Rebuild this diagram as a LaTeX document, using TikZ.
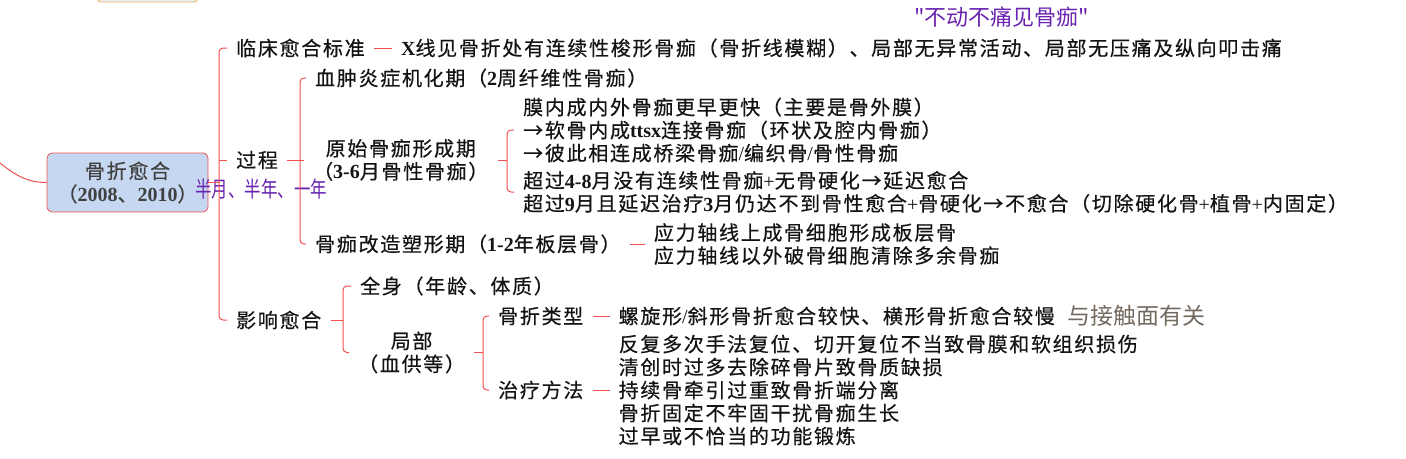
\documentclass[tikz,border=0pt]{standalone}
\usepackage{fontspec}
\setmainfont{Noto Sans CJK SC}[LetterSpace=8.5, FakeBold=0.5]
\newfontfamily\latfont{Liberation Serif}
\newfontfamily\handfont{Noto Sans CJK SC}
\newcommand\lb[1]{{\latfont\bfseries #1}}
\newcommand\lr[1]{{\latfont #1}}
\usepackage{xcolor}
\usetikzlibrary{positioning, calc}

\definecolor{linkred}{RGB}{242,80,80}
\definecolor{rootblue}{RGB}{198,216,241}
\definecolor{inkpurple}{RGB}{105,35,175}
\definecolor{notegray}{RGB}{115,105,95}
\definecolor{txtdark}{RGB}{20,20,20}
\definecolor{prevorange}{RGB}{246,175,85}

\begin{document}
\begin{tikzpicture}[
    x=1pt, y=-1pt,
    font=\fontsize{20}{23}\selectfont,
    topic/.style={inner xsep=9pt, inner ysep=0pt, text=txtdark, align=left},
    root/.style={rectangle, draw=linkred, fill=rootblue, rounded corners=5pt, minimum width=161pt, minimum height=59pt, align=center, text=black!75, line width=0.8pt},
    prevbox/.style={rectangle, draw=prevorange, fill=rootblue!40, rounded corners=4pt, minimum width=101pt, minimum height=28pt, line width=0.8pt},
    link/.style={draw=linkred, line width=1pt},
    bracket/.style={link, rounded corners=4pt},
    ink/.style={text=inkpurple, inner sep=0pt, font=\handfont\fontsize{22}{24}\selectfont},
    note/.style={text=notegray, inner sep=0pt, font=\handfont\fontsize{23}{24}\selectfont},
]
    \useasboundingbox (0,0) rectangle (1406,458);

    % centre topic and the one above it
    \node[prevbox] (prev) at (147.5,-12) {};
    \node[root] (root) at (127.5,182.5) {骨折愈合\\（\lb{2008}、\lb{2010}）};

    % first level
    \node[topic, anchor=west] (clin) at (227,48) {临床愈合标准};
    \node[topic, right=18pt of clin] (clinTxt) {\lb{X}线见骨折处有连续性梭形骨痂（骨折线模糊）、局部无异常活动、局部无压痛及纵向叩击痛};
    \node[topic, anchor=west] (proc) at (227,160) {过程};
    \node[topic, anchor=west] (infl) at (227,320) {影响愈合};

    % healing process
    \node[topic, anchor=west] (hema) at (306,78) {血肿炎症机化期（\lb{2}周纤维性骨痂）};
    \node[topic, anchor=west, align=center] (prim) at (304,160) {原始骨痂形成期\\（\lb{3-6}月骨性骨痂）};
    \node[topic, anchor=west] (primA) at (514,130) {膜内成内外骨痂更早更快（主要是骨外膜）\\→软骨内成\lb{ttsx}连接骨痂（环状及腔内骨痂）\\→彼此相连成桥梁骨痂\lr{/}编织骨\lr{/}骨性骨痂};
    \node[topic, anchor=west] (primB) at (514,192) {超过\lb{4-8}月没有连续性骨痂\lr{+}无骨硬化→延迟愈合\\超过\lb{9}月且延迟治疗\lb{3}月仍达不到骨性愈合\lr{+}骨硬化→不愈合（切除硬化骨\lr{+}植骨\lr{+}内固定）};
    \node[topic, anchor=west] (remod) at (306,244) {骨痂改造塑形期（\lb{1-2}年板层骨）};
    \node[topic, right=15pt of remod] (remodTxt) {应力轴线上成骨细胞形成板层骨\\应力轴线以外破骨细胞清除多余骨痂};

    % factors
    \node[topic, anchor=west] (whole) at (351,286) {全身（年龄、体质）};
    \node[topic, anchor=west, align=center] (local) at (349,352.5) {局部\\（血供等）};
    \node[topic, anchor=west] (ftype) at (489,316) {骨折类型};
    \node[topic, right=17pt of ftype] (ftypeTxt) {螺旋形\lr{/}斜形骨折愈合较快、横形骨折愈合较慢};
    \node[topic, anchor=west] (treat) at (489,390) {治疗方法};
    \node[topic, right=17pt of treat] (treatTxt) {反复多次手法复位、切开复位不当致骨膜和软组织损伤\\清创时过多去除碎骨片致骨质缺损\\持续骨牵引过重致骨折端分离\\骨折固定不牢固干扰骨痂生长\\过早或不恰当的功能锻炼};

    % handwritten notes
    \node[ink, anchor=west] (quote) at (914,17) {"不动不痛见骨痂"};
    \node[ink, anchor=west, xscale=0.75] (half) at (195,189) {半月、半年、一年};
    \node[note, right=3pt of ftypeTxt] (touch) {与接触面有关};

    % bracket positions
    \coordinate (start) at (0,163);
    \coordinate (b1) at (219,0);
    \coordinate (b2) at (300,0);
    \coordinate (b3) at (507,0);
    \coordinate (b4) at (343,0);
    \coordinate (b5) at (483,0);

    \draw[link] (start) to[out=-38, in=180] (root.west);
    \draw[link] (root.east) -- (root.east -| b1);
    \draw[bracket] (clin.west) -| (b1 |- root.east) |- (infl.west);
    \draw[link] (b1 |- proc.west) -- (proc.west);
    \draw[link] (clin) -- (clinTxt);

    \draw[link] (proc.east) -- (proc.east -| b2);
    \draw[bracket] (hema.west) -| (b2 |- proc.east) |- (remod.west);
    \draw[link] (b2 |- prim.west) -- (prim.west);
    \draw[link] (prim.east) -- (prim.east -| b3);
    \draw[bracket] (primA.west) -| (b3 |- prim.east) |- (primB.west);
    \draw[link] (remod) -- (remodTxt);

    \draw[link] (infl.east) -- (infl.east -| b4);
    \draw[bracket] (whole.west) -| (b4 |- infl.east) |- (local.west);
    \draw[link] (local.east) -- (local.east -| b5);
    \draw[bracket] (ftype.west) -| (b5 |- local.east) |- (treat.west);
    \draw[link] (ftype) -- (ftypeTxt);
    \draw[link] (treat) -- (treatTxt);
\end{tikzpicture}
\end{document}
